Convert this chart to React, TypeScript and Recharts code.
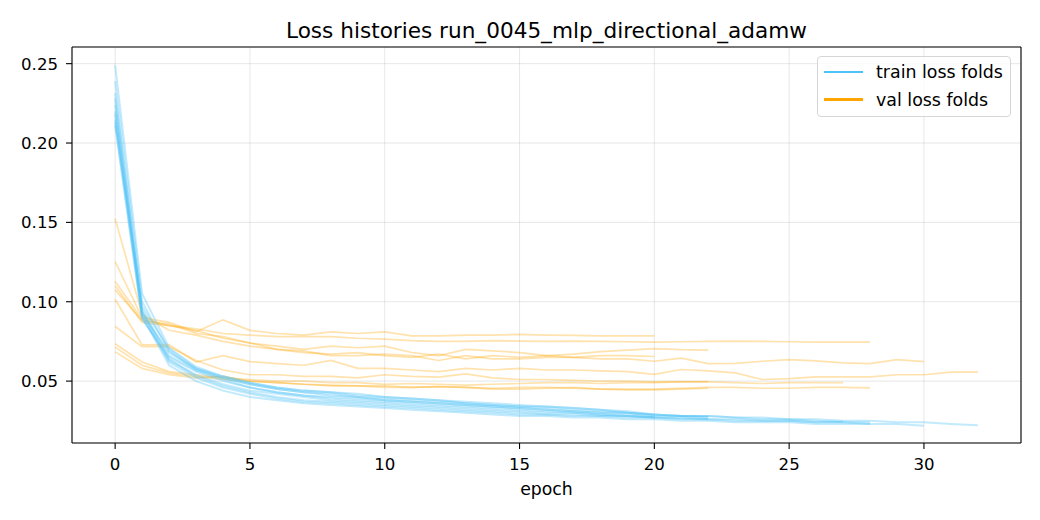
import React from 'react';
import { CartesianGrid, Line, LineChart, ReferenceLine, XAxis, YAxis } from 'recharts';

const FONT = '"DejaVu Sans", sans-serif';
const TRAIN_COLOR = '#4fc3f7';
const VAL_COLOR = '#ffa500';

const xDomain: [number, number] = [-1.6, 33.6];
const yDomain: [number, number] = [0.011, 0.2605];
const xTicks = [0, 5, 10, 15, 20, 25, 30];
const yTicks = [0.05, 0.1, 0.15, 0.2, 0.25];

// train loss per fold, one value per epoch starting at epoch 0
const trainFold1 = [0.2315, 0.095, 0.066, 0.057, 0.052, 0.048, 0.045, 0.043, 0.042, 0.04, 0.039, 0.038, 0.037, 0.036, 0.035, 0.034, 0.033, 0.032, 0.031, 0.03, 0.029, 0.028, 0.0275];
const trainFold2 = [0.22, 0.092, 0.068, 0.058, 0.053, 0.049, 0.046, 0.044, 0.043, 0.041, 0.04, 0.039, 0.038, 0.036, 0.035, 0.034, 0.034, 0.033, 0.032, 0.031, 0.029, 0.028, 0.028, 0.027, 0.026, 0.026, 0.025, 0.024, 0.024];
const trainFold3 = [0.213, 0.09, 0.063, 0.054, 0.048, 0.044, 0.042, 0.04, 0.038, 0.037, 0.036, 0.035, 0.034, 0.033, 0.032, 0.031, 0.03, 0.03, 0.029, 0.028, 0.027, 0.027, 0.026, 0.026, 0.025, 0.025, 0.024, 0.024, 0.023, 0.023, 0.0218];
const trainFold4 = [0.2147, 0.097, 0.07, 0.058, 0.052, 0.048, 0.045, 0.043, 0.041, 0.04, 0.038, 0.037, 0.036, 0.035, 0.034, 0.033, 0.032, 0.031, 0.03, 0.03, 0.029, 0.028, 0.028, 0.027, 0.027, 0.026, 0.026, 0.025, 0.025, 0.024, 0.024, 0.023, 0.0222];
const trainFold5 = [0.249, 0.105, 0.071, 0.059, 0.053, 0.049, 0.046, 0.044, 0.043, 0.042, 0.04, 0.039, 0.038, 0.037, 0.036, 0.035, 0.034, 0.033, 0.032, 0.03, 0.028];
const trainFold6 = [0.239, 0.1, 0.069, 0.057, 0.051, 0.046, 0.043, 0.041, 0.039, 0.038, 0.037, 0.036, 0.035, 0.034, 0.033, 0.032, 0.031, 0.03, 0.029, 0.028, 0.027];
const trainFold7 = [0.228, 0.094, 0.064, 0.053, 0.047, 0.043, 0.04, 0.038, 0.037, 0.036, 0.035, 0.034, 0.033, 0.032, 0.031, 0.03, 0.029, 0.029, 0.028, 0.028, 0.027, 0.0265, 0.026];
const trainFold8 = [0.224, 0.093, 0.062, 0.052, 0.046, 0.042, 0.039, 0.037, 0.036, 0.035, 0.034, 0.033, 0.032, 0.031, 0.03, 0.029, 0.029, 0.028, 0.028, 0.027, 0.027, 0.026, 0.026, 0.025, 0.025, 0.025, 0.024, 0.0245];
const trainFold9 = [0.218, 0.091, 0.06, 0.05, 0.044, 0.04, 0.038, 0.036, 0.035, 0.034, 0.033, 0.032, 0.031, 0.03, 0.029, 0.028, 0.028, 0.027, 0.027, 0.026, 0.026, 0.025, 0.025, 0.024, 0.024, 0.024, 0.023, 0.023, 0.023];
const trainFold10 = [0.211, 0.089, 0.065, 0.056, 0.05, 0.046, 0.043, 0.041, 0.04, 0.039, 0.038, 0.037, 0.036, 0.035, 0.034, 0.033, 0.032, 0.031, 0.03, 0.029, 0.028, 0.028, 0.027];

// validation loss per fold
const valFold1 = [0.1075, 0.088, 0.086, 0.08, 0.078, 0.074, 0.072, 0.07, 0.072, 0.071, 0.072, 0.068, 0.066, 0.07, 0.069, 0.068, 0.066, 0.067, 0.0686, 0.0695, 0.0705, 0.0698, 0.0695];
const valFold2 = [0.1127, 0.089, 0.085, 0.083, 0.08, 0.079, 0.078, 0.078, 0.078, 0.077, 0.0765, 0.0755, 0.075, 0.075, 0.0755, 0.0752, 0.075, 0.0752, 0.075, 0.0748, 0.0745, 0.0748, 0.075, 0.0752, 0.075, 0.0748, 0.0745, 0.0745, 0.0745];
const valFold3 = [0.11, 0.087, 0.085, 0.082, 0.077, 0.074, 0.07, 0.069, 0.066, 0.066, 0.067, 0.066, 0.063, 0.066, 0.064, 0.064, 0.065, 0.065, 0.064, 0.064, 0.0625, 0.0645, 0.061, 0.0612, 0.0625, 0.0635, 0.0628, 0.0615, 0.061, 0.0635, 0.0623];
const valFold4 = [0.1016, 0.0728, 0.073, 0.062, 0.066, 0.0623, 0.061, 0.06, 0.063, 0.058, 0.058, 0.057, 0.056, 0.058, 0.057, 0.058, 0.057, 0.057, 0.0565, 0.056, 0.0543, 0.0573, 0.0565, 0.0552, 0.051, 0.0515, 0.0527, 0.0527, 0.0527, 0.054, 0.054, 0.0557, 0.0557];
const valFold5 = [0.1253, 0.09, 0.087, 0.081, 0.0886, 0.082, 0.08, 0.079, 0.081, 0.08, 0.081, 0.0785, 0.0785, 0.079, 0.079, 0.0795, 0.079, 0.0788, 0.0785, 0.0785, 0.0785];
const valFold6 = [0.1523, 0.092, 0.082, 0.079, 0.075, 0.072, 0.07, 0.068, 0.067, 0.068, 0.066, 0.065, 0.067, 0.064, 0.066, 0.065, 0.066, 0.065, 0.066, 0.066, 0.0655];
const valFold7 = [0.0844, 0.0717, 0.0717, 0.063, 0.057, 0.054, 0.054, 0.053, 0.053, 0.052, 0.054, 0.053, 0.0525, 0.0546, 0.052, 0.051, 0.051, 0.0505, 0.05, 0.05, 0.0495, 0.0497, 0.0497];
const valFold8 = [0.0735, 0.062, 0.056, 0.054, 0.052, 0.051, 0.05, 0.05, 0.049, 0.049, 0.048, 0.0485, 0.048, 0.0475, 0.048, 0.0485, 0.049, 0.049, 0.0485, 0.049, 0.049, 0.0495, 0.0495, 0.049, 0.0485, 0.049, 0.049, 0.049];
const valFold9 = [0.0714, 0.06, 0.055, 0.053, 0.051, 0.05, 0.049, 0.048, 0.047, 0.047, 0.046, 0.046, 0.0465, 0.046, 0.0455, 0.046, 0.046, 0.0455, 0.045, 0.045, 0.045, 0.0455, 0.046, 0.046, 0.0455, 0.0455, 0.046, 0.046, 0.0457];
const valFold10 = [0.0684, 0.058, 0.054, 0.052, 0.053, 0.05, 0.049, 0.048, 0.0475, 0.047, 0.047, 0.046, 0.0465, 0.046, 0.045, 0.045, 0.0455, 0.046, 0.045, 0.0445, 0.0445, 0.045, 0.0455];

const trainFolds = [trainFold1, trainFold2, trainFold3, trainFold4, trainFold5, trainFold6, trainFold7, trainFold8, trainFold9, trainFold10];
const valFolds = [valFold1, valFold2, valFold3, valFold4, valFold5, valFold6, valFold7, valFold8, valFold9, valFold10];

const maxEpoch = Math.max(...trainFolds.map((f) => f.length)) - 1;

const data = Array.from({ length: maxEpoch + 1 }, (_, epoch) => {
  const row: Record<string, number | undefined> = { epoch };
  trainFolds.forEach((fold, i) => {
    row[`t${i}`] = fold[epoch];
  });
  valFolds.forEach((fold, i) => {
    row[`v${i}`] = fold[epoch];
  });
  return row;
});

const tickStyle = { fill: '#000', fontSize: 16.6, fontFamily: FONT };
const spine = { stroke: '#000', strokeWidth: 1.1 };

const LegendBox: React.FC = () => (
  <div
    style={{
      position: 'absolute',
      left: 817,
      top: 56,
      width: 192,
      height: 59,
      border: '1px solid #d6d6d6',
      borderRadius: 4,
      background: 'rgba(255,255,255,0.8)',
      fontFamily: FONT,
      fontSize: 17.4,
      color: '#000'
    }}
  >
    {[
      { label: 'train loss folds', color: TRAIN_COLOR },
      { label: 'val loss folds', color: VAL_COLOR }
    ].map((item, i) => (
      <div key={item.label} style={{ position: 'absolute', left: 6, top: 4 + i * 27.6, height: 22, display: 'flex', alignItems: 'center' }}>
        <span style={{ display: 'inline-block', width: 39, height: 2.3, background: item.color }} />
        <span style={{ marginLeft: 13, whiteSpace: 'nowrap' }}>{item.label}</span>
      </div>
    ))}
  </div>
);

export default function App() {
  return (
    <div style={{ position: 'absolute', left: 0, top: 0, width: 1040, height: 520, background: '#fff' }}>
      <div
        style={{
          position: 'absolute',
          left: 72,
          width: 949,
          top: 18,
          textAlign: 'center',
          fontFamily: FONT,
          fontSize: 21.6,
          lineHeight: 'normal',
          color: '#000'
        }}
      >
        Loss histories run_0045_mlp_directional_adamw
      </div>
      <LineChart width={1040} height={520} data={data} margin={{ top: 47, right: 19, bottom: 47, left: 0 }}>
        <CartesianGrid stroke="#b0b0b0" strokeOpacity={0.35} strokeWidth={0.9} />
        <XAxis
          type="number"
          dataKey="epoch"
          domain={xDomain}
          ticks={xTicks}
          allowDataOverflow
          height={30}
          tick={tickStyle}
          tickSize={6}
          tickMargin={9}
          tickLine={spine}
          axisLine={spine}
        />
        <YAxis
          type="number"
          domain={yDomain}
          ticks={yTicks}
          allowDataOverflow
          width={72}
          tick={tickStyle}
          tickSize={6}
          tickMargin={8}
          tickLine={spine}
          axisLine={spine}
          tickFormatter={(v: number) => v.toFixed(2)}
        />
        {valFolds.map((_, i) => (
          <Line
            key={`v${i}`}
            dataKey={`v${i}`}
            stroke={VAL_COLOR}
            strokeOpacity={0.32}
            strokeWidth={1.7}
            dot={false}
            activeDot={false}
            isAnimationActive={false}
          />
        ))}
        {trainFolds.map((_, i) => (
          <Line
            key={`t${i}`}
            dataKey={`t${i}`}
            stroke={TRAIN_COLOR}
            strokeOpacity={0.35}
            strokeWidth={2}
            dot={false}
            activeDot={false}
            isAnimationActive={false}
          />
        ))}
        <ReferenceLine y={yDomain[1]} stroke="#000" strokeWidth={1.1} ifOverflow="visible" />
        <ReferenceLine x={xDomain[1]} stroke="#000" strokeWidth={1.1} ifOverflow="visible" />
      </LineChart>
      <div
        style={{
          position: 'absolute',
          left: 72,
          width: 949,
          top: 479,
          textAlign: 'center',
          fontFamily: FONT,
          fontSize: 17.3,
          lineHeight: 'normal',
          color: '#000'
        }}
      >
        epoch
      </div>
      <LegendBox />
    </div>
  );
}
